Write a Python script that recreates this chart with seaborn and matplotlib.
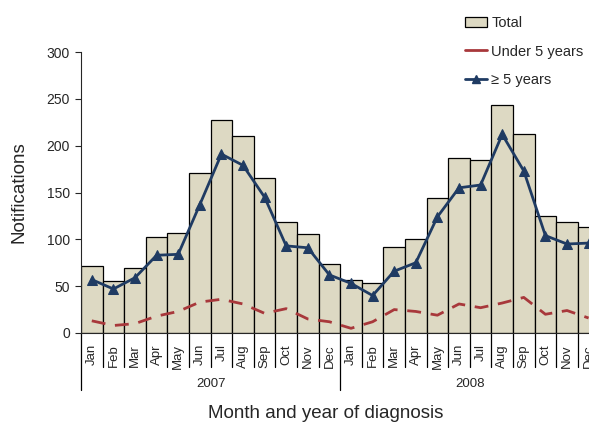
import numpy as np
import pandas as pd
import matplotlib.pyplot as plt
import seaborn as sns
from matplotlib.patches import Patch
from matplotlib.lines import Line2D

months = ['Jan', 'Feb', 'Mar', 'Apr', 'May', 'Jun', 'Jul', 'Aug', 'Sep', 'Oct', 'Nov', 'Dec']
years = ['2007', '2008']
total = [71, 55, 69, 102, 107, 171, 227, 210, 166, 119, 106, 74,
         57, 53, 92, 100, 144, 187, 185, 243, 212, 125, 118, 113]
under5 = [13, 8, 10, 18, 23, 33, 36, 31, 21, 26, 15, 12,
          5, 12, 25, 23, 19, 31, 27, 32, 38, 20, 24, 16]
over5 = [57, 47, 59, 83, 84, 137, 191, 179, 145, 93, 91, 62,
         53, 40, 66, 75, 124, 155, 158, 212, 173, 104, 95, 96]

df = pd.DataFrame({
    'pos': np.arange(len(total)),
    'month': months * len(years),
    'year': np.repeat(years, len(months)),
    'total': total,
    'under5': under5,
    'over5': over5,
})

sns.set_style('white')
plt.rcParams['font.family'] = ['Liberation Sans', 'DejaVu Sans']

bar_col = '#DDD9C3'
blue = '#1F3B63'
red = '#A8383B'

fig = plt.figure(figsize=(5.89, 4.24), dpi=100)
ax = fig.add_axes([81 / 589, 91 / 424, 518.4 / 589, 281 / 424])

sns.barplot(data=df, x='pos', y='total', native_scale=True, width=1,
            color=bar_col, edgecolor='black', linewidth=0.9, saturation=1, ax=ax)
sns.lineplot(data=df, x='pos', y='under5', color=red, linewidth=2,
             ax=ax, dashes=False)
ax.lines[-1].set_dashes((5, 3.5))
sns.lineplot(data=df, x='pos', y='over5', color=blue, linewidth=2,
             marker='^', markersize=7.5, markeredgecolor=blue, ax=ax)

n = len(total)
ax.set_xlim(-0.5, n - 0.5)
ax.set_ylim(0, 300)
ax.set_yticks(np.arange(0, 301, 50))
ax.tick_params(axis='y', labelsize=10, length=4, width=0.8, direction='out', left=True, pad=4)
ax.set_xticks(df['pos'])
ax.set_xticklabels(df['month'], rotation=90, fontsize=9.5, va='top')
ax.tick_params(axis='x', length=0, pad=8)
sns.despine(ax=ax)
ax.spines['left'].set_linewidth(0.8)
ax.spines['bottom'].set_linewidth(0.8)
ax.set_xlabel('')
ax.set_ylabel('Notifications', fontsize=13.5, labelpad=14)

trans = ax.get_xaxis_transform()
for i in range(n + 1):
    bottom = -0.203 if i % len(months) == 0 else -0.12
    ax.plot([i - 0.5, i - 0.5], [0, bottom], color='black', lw=0.9,
            transform=trans, clip_on=False)
for k, yr in enumerate(years):
    ax.text(k * len(months) + (len(months) - 1) / 2, -0.18, yr, transform=trans,
            ha='center', va='center', fontsize=9.5)

fig.text(326 / 589, 1 - 414 / 424, 'Month and year of diagnosis',
         ha='center', va='center', fontsize=13.5)

handles = [
    Patch(facecolor=bar_col, edgecolor='black', linewidth=0.9),
    Line2D([], [], color=red, linewidth=2),
    Line2D([], [], color=blue, linewidth=2, marker='^', markersize=6),
]
fig.legend(handles, ['Total', 'Under 5 years', '\u2265 5 years'],
           loc='upper left', bbox_to_anchor=(465 / 589, 1 - 16 / 424),
           frameon=False, fontsize=10.5, handlelength=1.5, handletextpad=0.3,
           labelspacing=1.0, borderpad=0, borderaxespad=0)

fig.savefig('out.png', dpi=100)
